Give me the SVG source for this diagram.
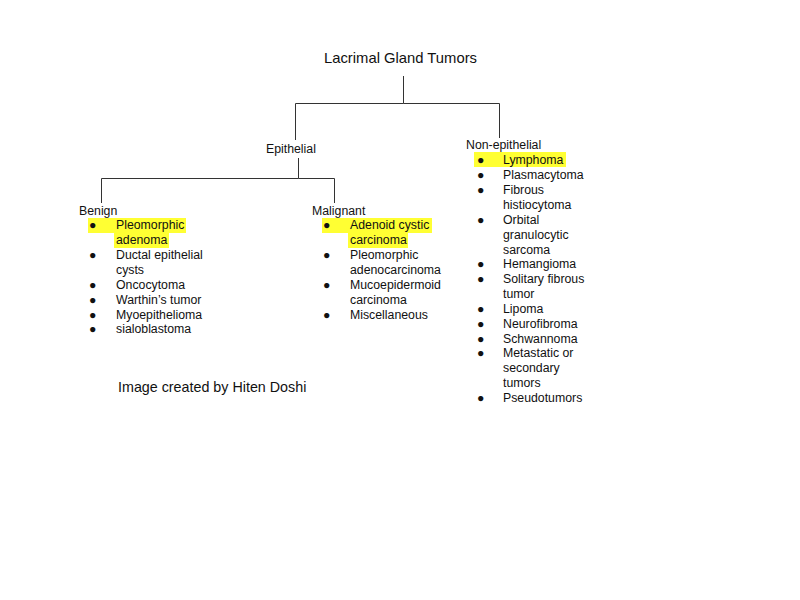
<svg xmlns="http://www.w3.org/2000/svg" width="800" height="600" viewBox="0 0 800 600">
<style>
text{font-family:"Liberation Sans",Arial,sans-serif;font-size:12.3px;fill:#111}
.t{font-size:14.8px}.c{font-size:14.3px}
.hl{fill:#ffff33}
#connectors path{stroke:#333;stroke-width:1;fill:none}
</style>
<rect width="800" height="600" fill="#fff"/>
<g id="connectors">
<path d="M403.5 76V103.5H295.5V140M403.5 103.5H499.5V138"/>
<path d="M298.5 158V178.5H101.5V203M298.5 178.5H334.5V203"/>
</g>
<g id="title"><text class="t" x="324" y="63">Lacrimal Gland Tumors</text></g>
<g id="epithelial"><text x="266" y="153">Epithelial</text></g>
<g id="benign">
<rect class="hl" x="88" y="218" width="98" height="15"/>
<rect class="hl" x="114" y="233" width="55" height="15"/>
<text x="79" y="215">Benign</text>
<text x="89" y="229">●</text><text x="116" y="229">Pleomorphic</text>
<text x="116" y="244">adenoma</text>
<text x="89" y="259">●</text><text x="116" y="259">Ductal epithelial</text>
<text x="116" y="274">cysts</text>
<text x="89" y="289">●</text><text x="116" y="289">Oncocytoma</text>
<text x="89" y="304">●</text><text x="116" y="304">Warthin’s tumor</text>
<text x="89" y="319">●</text><text x="116" y="319">Myoepithelioma</text>
<text x="89" y="333">●</text><text x="116" y="333">sialoblastoma</text>
</g>
<g id="malignant">
<rect class="hl" x="322" y="218" width="110" height="15"/>
<rect class="hl" x="348" y="233" width="60" height="15"/>
<text x="312" y="215">Malignant</text>
<text x="323" y="229">●</text><text x="350" y="229">Adenoid cystic</text>
<text x="350" y="244">carcinoma</text>
<text x="323" y="259">●</text><text x="350" y="259">Pleomorphic</text>
<text x="350" y="274">adenocarcinoma</text>
<text x="323" y="289">●</text><text x="350" y="289">Mucoepidermoid</text>
<text x="350" y="304">carcinoma</text>
<text x="323" y="319">●</text><text x="350" y="319">Miscellaneous</text>
</g>
<g id="nonepithelial">
<rect class="hl" x="474" y="152" width="92" height="15"/>
<text x="466" y="149">Non-epithelial</text>
<text x="477" y="164">●</text><text x="503" y="164">Lymphoma</text>
<text x="477" y="179">●</text><text x="503" y="179">Plasmacytoma</text>
<text x="477" y="194">●</text><text x="503" y="194">Fibrous</text>
<text x="503" y="209">histiocytoma</text>
<text x="477" y="224">●</text><text x="503" y="224">Orbital</text>
<text x="503" y="239">granulocytic</text>
<text x="503" y="254">sarcoma</text>
<text x="477" y="268">●</text><text x="503" y="268">Hemangioma</text>
<text x="477" y="283">●</text><text x="503" y="283">Solitary fibrous</text>
<text x="503" y="298">tumor</text>
<text x="477" y="313">●</text><text x="503" y="313">Lipoma</text>
<text x="477" y="328">●</text><text x="503" y="328">Neurofibroma</text>
<text x="477" y="343">●</text><text x="503" y="343">Schwannoma</text>
<text x="477" y="357">●</text><text x="503" y="357">Metastatic or</text>
<text x="503" y="372">secondary</text>
<text x="503" y="387">tumors</text>
<text x="477" y="402">●</text><text x="503" y="402">Pseudotumors</text>
</g>
<g id="credit"><text class="c" x="118" y="392">Image created by Hiten Doshi</text></g>
</svg>
